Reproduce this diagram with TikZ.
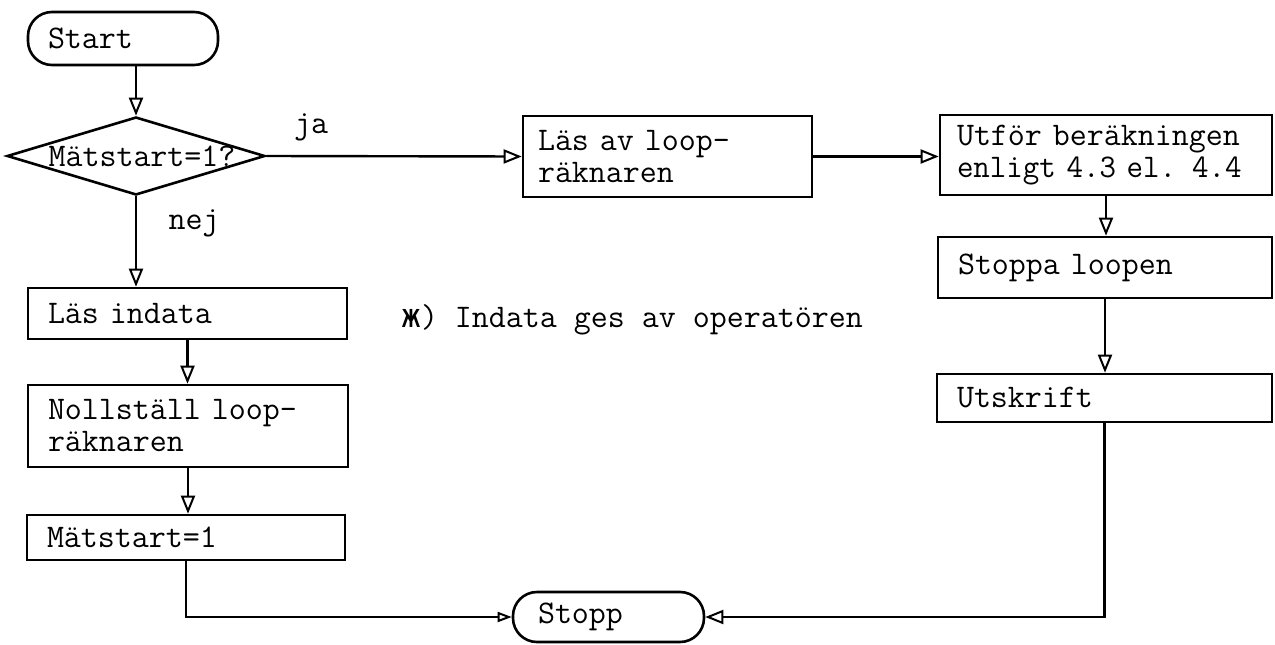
\documentclass[tikz,border=0pt]{standalone}
\usepackage{fontspec}
\usepackage{graphicx}
\usetikzlibrary{arrows.meta,shapes.geometric}
\newfontfamily\cyrtt{DejaVu Sans Mono}
\begin{document}
\begin{tikzpicture}[x=1pt,y=-1pt,
  every node/.style={font=\fontsize{33}{32}\selectfont\ttfamily},
  box/.style={draw, line width=2.6pt, align=left, inner ysep=0pt},
  term/.style={box, rounded corners=24pt},
  txt/.style={inner sep=0pt},
  arr/.style={line width=2.4pt, -{Triangle[open,length=18pt,width=14pt,line width=2pt]}},
  sarr/.style={line width=2.4pt, -{Triangle[open,length=14pt,width=10pt,line width=2pt]}}]
\useasboundingbox (0,0) rectangle (1275,645);

% left column
\node[term, text width=150pt, inner xsep=20pt, minimum height=53pt] (start) at (123,38.5) {Start};
\node[draw, diamond, line width=2.6pt, minimum width=258pt, minimum height=78pt, inner sep=0pt, aspect=3.3] (d) at (136,156) {\makebox[0pt]{\hspace*{12pt}Mätstart=1?}};
\node[box, text width=279pt, inner xsep=20pt, minimum height=51pt] (lasin) at (187.5,313.5) {Läs indata};
\node[box, text width=280pt, inner xsep=20pt, minimum height=82pt] (noll) at (188,426) {Nollställ loop-\\räknaren};
\node[box, text width=278pt, inner xsep=20pt, minimum height=45pt] (mat) at (186,537.5) {Mätstart=1};

% top middle and right column
\node[box, text width=259pt, inner xsep=15pt, minimum height=81pt] (lasav) at (667.5,156.5) {Läs av loop-\\räknaren};
\node[box, text width=298pt, inner xsep=17pt, minimum height=80pt] (utfor) at (1106,155) {Utför beräkningen\\\scalebox{0.97}[1]{enligt 4.3 el. 4.4}};
\node[box, text width=294pt, inner xsep=20pt, minimum height=61pt] (stoppa) at (1105,267.5) {Stoppa loopen};
\node[box, text width=295pt, inner xsep=20pt, minimum height=48pt] (utskr) at (1104.5,398) {Utskrift};

% end
\node[term, text width=141pt, inner xsep=25pt, minimum height=50pt] (stopp) at (608.5,617) {Stopp};

% labels
\node[txt] (ja) at (311,127) {ja};
\node[txt] (nej) at (194,223) {nej};
\node[txt] (note) at (632,320) {{\cyrtt ж}) Indata ges av operatören};

% connectors
\draw[arr] (start.south -| d.north) -- (d.north);
\draw[arr] (d.south) -- (d.south |- lasin.north);
\draw[arr] (d.east) -- (lasav.west);
\draw[arr] (lasav.east) -- (lasav.east -| utfor.west);
\draw[arr] (utfor.south) -- (utfor.south |- stoppa.north);
\draw[arr] (stoppa.south) -- (stoppa.south |- utskr.north);
\draw[arr] (utskr.south) |- (stopp.east);
\draw[arr] (lasin.south) -- (lasin.south |- noll.north);
\draw[arr] (noll.south) -- (noll.south |- mat.north);
\draw[sarr] (mat.south) |- (stopp.west);
\end{tikzpicture}
\end{document}
